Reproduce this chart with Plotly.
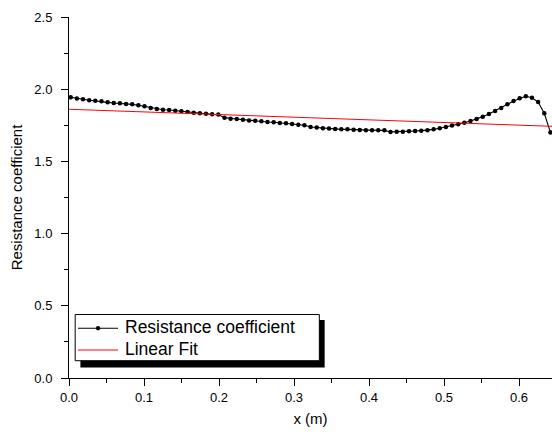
import plotly.graph_objects as go

# ---- data ----
x_vals = [0.0023, 0.0105, 0.0187, 0.0269, 0.0351, 0.0433, 0.0515, 0.0597, 0.0679, 0.0761,
          0.0843, 0.0925, 0.1007, 0.1089, 0.1171, 0.1253, 0.1335, 0.1417, 0.1499, 0.1581,
          0.1663, 0.1745, 0.1827, 0.1909, 0.1991, 0.2073, 0.2155, 0.2237, 0.2319, 0.2401,
          0.2483, 0.2565, 0.2647, 0.2729, 0.2811, 0.2893, 0.2975, 0.3057, 0.3139, 0.3221,
          0.3303, 0.3385, 0.3467, 0.3549, 0.3631, 0.3713, 0.3795, 0.3877, 0.3959, 0.4041,
          0.4123, 0.4205, 0.4287, 0.4369, 0.4451, 0.4533, 0.4615, 0.4697, 0.4779, 0.4861,
          0.4943, 0.5025, 0.5107, 0.5189, 0.5271, 0.5353, 0.5435, 0.5517, 0.5599, 0.5681,
          0.5763, 0.5845, 0.5927, 0.6009, 0.6091, 0.6173, 0.6255, 0.6337, 0.6419]

resistance = [1.944, 1.935, 1.930, 1.923, 1.920, 1.916, 1.909, 1.904, 1.902, 1.898,
              1.895, 1.889, 1.882, 1.870, 1.863, 1.858, 1.856, 1.851, 1.847, 1.842,
              1.837, 1.833, 1.830, 1.826, 1.824, 1.803, 1.796, 1.794, 1.789, 1.784,
              1.782, 1.778, 1.773, 1.771, 1.766, 1.764, 1.759, 1.754, 1.750, 1.738,
              1.734, 1.729, 1.727, 1.724, 1.722, 1.722, 1.720, 1.717, 1.715, 1.715,
              1.715, 1.715, 1.704, 1.706, 1.706, 1.708, 1.711, 1.713, 1.715, 1.722,
              1.729, 1.738, 1.748, 1.757, 1.768, 1.780, 1.794, 1.810, 1.828, 1.849,
              1.870, 1.895, 1.918, 1.937, 1.951, 1.941, 1.911, 1.833, 1.701]

fit_x = [0.0, 0.644]
fit_y = [1.861, 1.743]

x_ticks = [0.0, 0.1, 0.2, 0.3, 0.4, 0.5, 0.6]
y_ticks = [0.0, 0.5, 1.0, 1.5, 2.0, 2.5]

series_names = ["Resistance coefficient", "Linear Fit"]
series_colors = ["black", "#ff0000"]

FONT = "Liberation Sans, Arial, sans-serif"

fig = go.Figure()
fig.add_trace(go.Scatter(
    x=x_vals, y=resistance, mode="lines+markers", name=series_names[0],
    line=dict(color=series_colors[0], width=1.1),
    marker=dict(color=series_colors[0], size=4.5, symbol="circle"),
))
fig.add_trace(go.Scatter(
    x=fit_x, y=fit_y, mode="lines", name=series_names[1],
    line=dict(color=series_colors[1], width=1),
))

# ---- legend drawn as an Origin-style box with drop shadow (paper coordinates) ----
shapes = []
shapes.append(dict(type="rect", xref="paper", yref="paper",
                   x0=0.0236, x1=0.5293, y0=0.0291, y1=0.1607,
                   fillcolor="black", line=dict(width=0), layer="above"))
shapes.append(dict(type="rect", xref="paper", yref="paper",
                   x0=0.0128, x1=0.5183, y0=0.0479, y1=0.1759,
                   fillcolor="white", line=dict(color="black", width=1), layer="above"))
row_y = [0.1377, 0.0776]
for ry, col, w in zip(row_y, series_colors, [1.1, 1]):
    shapes.append(dict(type="line", xref="paper", yref="paper",
                       x0=0.0186, x1=0.1015, y0=ry, y1=ry,
                       line=dict(color=col, width=w), layer="above"))
shapes.append(dict(type="circle", xref="paper", yref="paper",
                   x0=0.0601 - 0.0045, x1=0.0601 + 0.0045,
                   y0=row_y[0] - 0.006, y1=row_y[0] + 0.006,
                   fillcolor="black", line=dict(color="black", width=0), layer="above"))
annotations = []
for ry, name in zip(row_y, series_names):
    annotations.append(dict(xref="paper", yref="paper", x=0.1119, y=ry + 0.004,
                            xanchor="left", yanchor="middle", showarrow=False,
                            text=name, font=dict(size=17.5, family=FONT, color="black")))

fig.update_layout(
    width=552, height=437,
    margin=dict(l=69, r=0, t=17, b=59, pad=0),
    paper_bgcolor="white", plot_bgcolor="white",
    font=dict(family=FONT, color="black", size=13),
    showlegend=False,
    shapes=shapes,
    annotations=annotations,
    xaxis=dict(range=[0, 0.644], tickvals=x_ticks, ticktext=["%.1f" % v for v in x_ticks],
               showline=True, linecolor="black", linewidth=1, mirror=False,
               ticks="outside", ticklen=7, tickcolor="black", showgrid=False, zeroline=False,
               minor=dict(dtick=0.05, ticks="outside", ticklen=4, tickcolor="black", showgrid=False),
               title=dict(text="x (m)", font=dict(size=15), standoff=9),
               tickfont=dict(size=13)),
    yaxis=dict(range=[0, 2.5], tickvals=y_ticks, ticktext=["%.1f" % v for v in y_ticks],
               showline=True, linecolor="black", linewidth=1, mirror=False,
               ticks="outside", ticklen=7, tickcolor="black", showgrid=False, zeroline=False,
               minor=dict(dtick=0.25, ticks="outside", ticklen=4, tickcolor="black", showgrid=False),
               ticklabelstandoff=6,
               title=dict(text="Resistance coefficient", font=dict(size=15), standoff=8),
               tickfont=dict(size=13)),
)

# remove the browser's default body margin so the figure fills the 552x437 window
fig.write_html("out.html",
               config={"displayModeBar": False},
               post_script="document.body.style.margin='0px';document.body.style.overflow='hidden';")
